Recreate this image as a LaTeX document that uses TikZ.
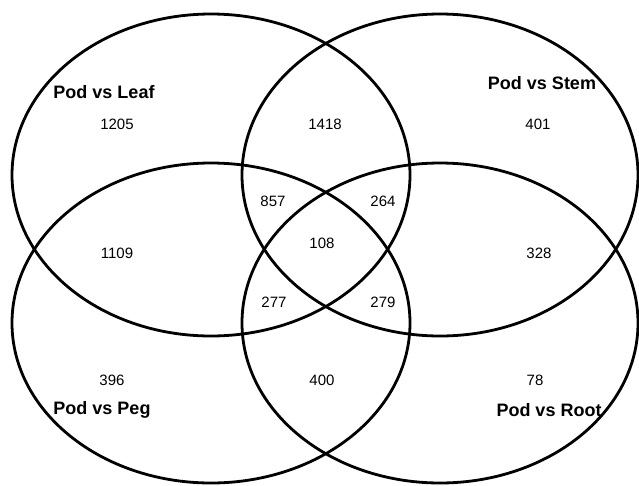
\documentclass[tikz,border=0pt]{standalone}
\usepackage{fontspec}
\setmainfont{Liberation Sans}
\begin{document}
\begin{tikzpicture}[x=1pt,y=-1pt,
  ring/.style={draw=black, line width=2.8pt},
  num/.style={font=\fontsize{15}{18}\selectfont, inner sep=0pt},
  lab/.style={font=\fontsize{18}{21}\selectfont\bfseries, inner sep=0pt}]
\useasboundingbox (0,0) rectangle (639,485);
\fill[white] (0,0) rectangle (639,485);
\draw[ring] (211,175) ellipse [x radius=199pt, y radius=161pt];
\draw[ring] (440,175) ellipse [x radius=198pt, y radius=161pt];
\draw[ring] (211,323) ellipse [x radius=199pt, y radius=160pt];
\draw[ring] (440,323) ellipse [x radius=198pt, y radius=160pt];
\node[lab] (leaf) at (104,92) {Pod vs Leaf};
\node[lab] (stem) at (542,83) {Pod vs Stem};
\node[lab] (peg) at (102,410) {Pod vs Peg};
\node[lab] (root) at (549,410) {Pod vs Root};
\node[num] (n1205) at (117,124) {1205};
\node[num] (n1418) at (325,124) {1418};
\node[num] (n401) at (538,124) {401};
\node[num] (n857) at (273,201) {857};
\node[num] (n264) at (383,201) {264};
\node[num] (n1109) at (117,253) {1109};
\node[num] (n108) at (322,243) {108};
\node[num] (n328) at (539,253) {328};
\node[num] (n277) at (274,302) {277};
\node[num] (n279) at (383,302) {279};
\node[num] (n396) at (112,380) {396};
\node[num] (n400) at (322,380) {400};
\node[num] (n78) at (535,380) {78};
\end{tikzpicture}
\end{document}
